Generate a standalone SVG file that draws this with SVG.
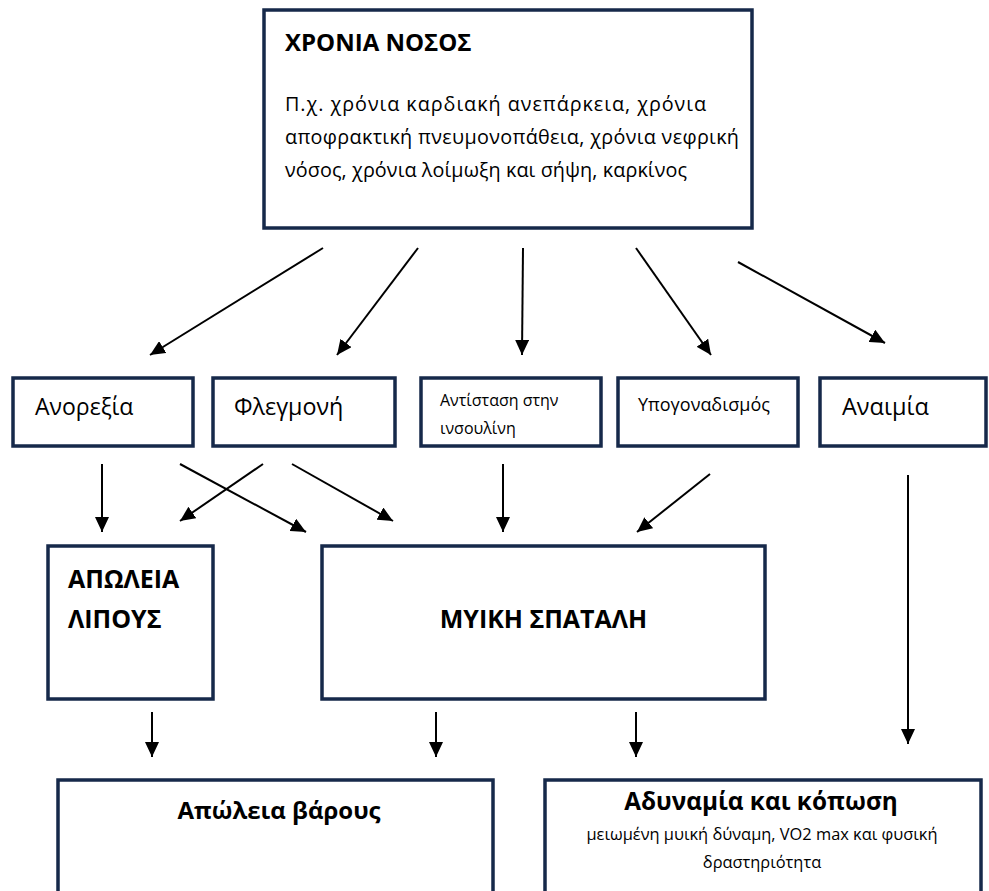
<svg xmlns="http://www.w3.org/2000/svg" width="989" height="891" viewBox="0 0 989 891">
<style>
.box{fill:#ffffff;stroke:#16294a;stroke-width:3.5}
.t{font-family:"Open Sans","Noto Sans","DejaVu Sans",sans-serif;fill:#000}
.b{font-weight:bold}
.c{stroke:#000;stroke-width:2;fill:none;marker-end:url(#ah)}
</style>
<defs>
<marker id="ah" markerUnits="userSpaceOnUse" markerWidth="16" markerHeight="14" refX="15" refY="7" orient="auto">
<path d="M0,0 L15,7 L0,14 z" fill="#000"/>
</marker>
</defs>
<rect width="989" height="891" fill="#fff"/>
<g id="chronia-nosos">
<rect class="box" x="264" y="10" width="488" height="218"/>
<text class="t b" x="285" y="51" font-size="24">ΧΡΟΝΙΑ ΝΟΣΟΣ</text>
<text class="t" x="285" y="111" font-size="19.8" textLength="421" lengthAdjust="spacing">Π.χ. χρόνια καρδιακή ανεπάρκεια, χρόνια</text>
<text class="t" x="285" y="144" font-size="19.8" textLength="454" lengthAdjust="spacing">αποφρακτική πνευμονοπάθεια, χρόνια νεφρική</text>
<text class="t" x="285" y="177" font-size="19.8" textLength="402" lengthAdjust="spacing">νόσος, χρόνια λοίμωξη και σήψη, καρκίνος</text>
</g>
<g id="anorexia">
<rect class="box" x="13" y="378" width="180" height="68"/>
<text class="t" x="35" y="415" font-size="23">Ανορεξία</text>
</g>
<g id="flegmoni">
<rect class="box" x="213" y="378" width="182" height="68"/>
<text class="t" x="234" y="415" font-size="23.3">Φλεγμονή</text>
</g>
<g id="antistasi">
<rect class="box" x="421" y="378" width="180" height="68"/>
<text class="t" x="440" y="406" font-size="16">Αντίσταση στην</text>
<text class="t" x="440" y="434" font-size="16">ινσουλίνη</text>
</g>
<g id="ypogonadismos">
<rect class="box" x="618" y="378" width="180" height="68"/>
<text class="t" x="638" y="411" font-size="18">Υπογοναδισμός</text>
</g>
<g id="anaimia">
<rect class="box" x="820" y="378" width="166" height="68"/>
<text class="t" x="842" y="415" font-size="23.5">Αναιμία</text>
</g>
<g id="apoleia-lipous">
<rect class="box" x="48" y="546" width="165" height="153"/>
<text class="t b" x="68" y="588" font-size="25">ΑΠΩΛΕΙΑ</text>
<text class="t b" x="68" y="628" font-size="25">ΛΙΠΟΥΣ</text>
</g>
<g id="myiki-spatali">
<rect class="box" x="322" y="546" width="443" height="153"/>
<text class="t b" x="543.5" y="628" font-size="25" text-anchor="middle">ΜΥΙΚΗ ΣΠΑΤΑΛΗ</text>
</g>
<g id="apoleia-varous">
<rect class="box" x="58" y="780" width="435" height="120"/>
<text class="t b" x="279" y="819" font-size="24" text-anchor="middle">Απώλεια βάρους</text>
</g>
<g id="adynamia">
<rect class="box" x="545" y="780" width="436" height="120"/>
<text class="t b" x="761" y="810" font-size="24.3" text-anchor="middle">Αδυναμία και κόπωση</text>
<text class="t" x="762" y="840" font-size="16.4" text-anchor="middle">μειωμένη μυική δύναμη, VO2 max και φυσική</text>
<text class="t" x="762" y="868" font-size="16.4" text-anchor="middle">δραστηριότητα</text>
</g>
<g id="connectors">
<line class="c" x1="323" y1="248" x2="150" y2="355"/>
<line class="c" x1="418" y1="248" x2="337" y2="355"/>
<line class="c" x1="523" y1="248" x2="522" y2="355"/>
<line class="c" x1="636" y1="248" x2="711" y2="355"/>
<line class="c" x1="738" y1="262" x2="885" y2="343"/>
<line class="c" x1="102" y1="464" x2="102" y2="532"/>
<line class="c" x1="180" y1="464" x2="306" y2="532"/>
<line class="c" x1="263" y1="464" x2="180" y2="521"/>
<line class="c" x1="292" y1="464" x2="393" y2="521"/>
<line class="c" x1="503" y1="464" x2="503" y2="532"/>
<line class="c" x1="710" y1="474" x2="637" y2="532"/>
<line class="c" x1="908" y1="475" x2="908" y2="744"/>
<line class="c" x1="152" y1="712" x2="152" y2="757"/>
<line class="c" x1="436" y1="712" x2="436" y2="757"/>
<line class="c" x1="636" y1="712" x2="636" y2="757"/>
</g>
</svg>
